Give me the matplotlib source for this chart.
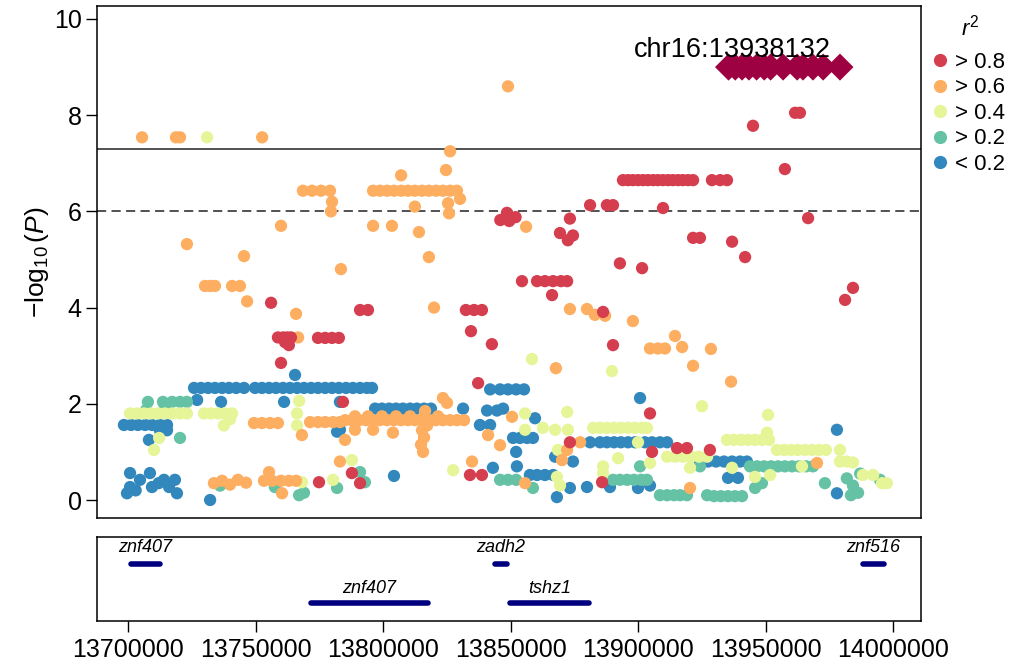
import matplotlib
matplotlib.use("Agg")
import matplotlib.pyplot as plt
from matplotlib.lines import Line2D
import numpy as np

plt.rcParams['font.family'] = ['Liberation Sans', 'DejaVu Sans']
plt.rcParams['mathtext.fontset'] = 'custom'
plt.rcParams['mathtext.rm'] = 'Liberation Sans'
plt.rcParams['mathtext.it'] = 'Liberation Sans:italic'

# ---------------- association results (positions in kb, -log10 P) ----------------
r2_gt08_kb = [13945.1, 13961.6, 13963.5, 13957.6, 13966.7, 13921.6, 13924.3, 13936.9, 13942.0, 13984.3, 13981.2,
              13894.1, 13896.1, 13898.0, 13900.0, 13902.0, 13903.9, 13905.9, 13907.8, 13909.8, 13911.8, 13913.7,
              13915.7, 13917.6, 13919.6, 13921.6, 13929.0, 13932.2, 13934.9,
              13909.8, 13881.2, 13887.8, 13890.2,
              13846.0, 13848.6, 13849.5, 13852.0,
              13873.3, 13869.4, 13872.5, 13874.5,
              13892.9, 13901.6,
              13854.5, 13860.4, 13863.5, 13866.7, 13869.8, 13872.2,
              13866.3,
              13832.5, 13835.7, 13838.8, 13791.0, 13794.1,
              13834.5, 13842.7, 13886.3, 13890.2,
              13756.1, 13758.8, 13760.8, 13762.4, 13763.9, 13763.1, 13761.6, 13760.0,
              13774.5, 13777.3, 13780.0, 13782.7,
              13784.3, 13774.9, 13787.8, 13791.0, 13834.1, 13838.8, 13837.3,
              13904.7, 13873.3, 13905.5, 13915.3, 13919.2, 13885.9, 13928.2]
r2_gt08_logp = [7.78, 8.05, 8.05, 6.88, 5.86, 5.45, 5.45, 5.37, 5.05, 4.41, 4.16,
                6.65, 6.65, 6.65, 6.65, 6.65, 6.65, 6.65, 6.65, 6.65, 6.65, 6.65,
                6.65, 6.65, 6.65, 6.65, 6.65, 6.65, 6.65,
                6.07, 6.13, 6.13, 6.13,
                5.82, 5.97, 5.80, 5.88,
                5.85, 5.55, 5.40, 5.50,
                4.92, 4.82,
                4.55, 4.55, 4.55, 4.55, 4.55, 4.55,
                4.26,
                3.95, 3.95, 3.95, 3.95, 3.95,
                3.51, 3.24, 3.91, 3.22,
                4.10, 3.38, 3.38, 3.38, 3.38, 3.22, 3.28, 2.85,
                3.37, 3.37, 3.37, 3.37,
                2.04, 0.37, 0.56, 0.35, 0.52, 0.52, 2.43,
                1.80, 1.20, 1.00, 1.08, 1.08, 0.37, 1.04]

r2_gt06_kb = [13705.5, 13718.8, 13720.4, 13752.6, 13849.0,
              13768.6, 13772.2, 13775.7, 13779.2, 13780.0, 13779.6,
              13760.0, 13723.1, 13745.5,
              13796.1, 13798.8, 13801.6, 13804.3, 13807.1, 13809.8, 13812.5, 13815.3, 13818.0, 13820.8,
              13823.5, 13826.3, 13829.0,
              13807.1, 13826.3, 13824.7, 13830.2, 13825.5, 13825.9, 13812.5, 13796.1, 13803.5, 13814.1,
              13818.0, 13783.5, 13820.0,
              13730.2, 13732.2, 13734.1, 13740.8, 13743.9, 13746.7, 13765.9, 13766.7,
              13856.1,
              13873.3, 13880.0, 13883.1, 13887.1, 13898.0, 13904.7, 13907.8, 13910.6, 13867.8,
              13914.5, 13917.3, 13928.6, 13921.6, 13936.5,
              13749.4, 13752.5, 13755.7, 13758.8, 13768.2,
              13771.4, 13774.5, 13777.3, 13780.4, 13783.1,
              13785.1, 13787.8, 13790.6, 13793.3, 13796.1, 13798.8, 13801.6, 13804.3, 13807.1, 13809.8,
              13812.5, 13815.3, 13818.0, 13820.8, 13823.5, 13826.3, 13829.0, 13831.8,
              13789.0, 13794.1, 13799.6, 13805.1, 13810.6, 13816.1, 13821.6,
              13823.5, 13825.1,
              13816.5, 13815.3, 13816.1, 13814.9, 13815.7, 13817.3,
              13789.0, 13796.1, 13803.9, 13785.1,
              13841.2, 13845.9, 13783.1, 13834.9,
              13733.7, 13736.9, 13740.0, 13743.1, 13746.3,
              13755.3, 13753.3, 13756.5, 13760.0, 13763.1, 13765.9, 13760.4,
              13850.6, 13877.3, 13870.2, 13872.2, 13855.7, 13920.4, 13970.2]
r2_gt06_logp = [7.54, 7.54, 7.54, 7.54, 8.60,
                6.43, 6.43, 6.43, 6.43, 6.20, 6.00,
                5.70, 5.32, 5.07,
                6.43, 6.43, 6.43, 6.43, 6.43, 6.43, 6.43, 6.43, 6.43, 6.43,
                6.43, 6.43, 6.43,
                6.75, 7.25, 6.86, 6.26, 6.17, 5.96, 6.10, 5.70, 5.70, 5.57,
                5.05, 4.80, 4.00,
                4.45, 4.45, 4.45, 4.45, 4.45, 4.13, 3.87, 3.38,
                5.68,
                3.97, 3.97, 3.85, 3.83, 3.72, 3.15, 3.15, 3.15, 2.74,
                3.41, 3.18, 3.14, 2.79, 2.46,
                1.60, 1.60, 1.60, 1.60, 1.35,
                1.62, 1.62, 1.62, 1.62, 1.62,
                1.66, 1.66, 1.66, 1.66, 1.66, 1.66, 1.66, 1.66, 1.66, 1.66,
                1.66, 1.66, 1.66, 1.66, 1.66, 1.66, 1.66, 1.66,
                1.74, 1.74, 1.74, 1.74, 1.74, 1.74, 1.74,
                2.12, 2.02,
                1.85, 1.45, 1.30, 1.15, 1.00, 1.55,
                1.46, 1.46, 1.40, 1.25,
                1.35, 1.14, 0.80, 0.80,
                0.35, 0.40, 0.32, 0.42, 0.36,
                0.58, 0.40, 0.40, 0.40, 0.40, 0.40, 0.14,
                1.73, 1.20, 0.83, 1.04, 0.35, 0.25, 0.77]

r2_gt04_kb = [13731.0,
              13858.4, 13889.8, 13925.1, 13951.0,
              13700.8, 13703.5, 13706.3, 13709.0, 13711.8, 13714.5, 13717.3, 13720.4, 13723.1,
              13729.8, 13732.5, 13735.3, 13738.0, 13740.8, 13737.6, 13740.0,
              13767.1, 13766.3, 13766.3,
              13712.2, 13710.2,
              13787.8, 13780.4, 13827.5, 13768.2,
              13855.7, 13872.2,
              13882.4, 13885.1, 13887.8, 13890.6, 13893.3, 13896.1, 13898.8, 13901.6, 13903.5,
              13855.7, 13862.7, 13867.5, 13872.5,
              13900.0,
              13911.4, 13914.5, 13917.6, 13920.8, 13923.9, 13927.1,
              13868.6, 13892.2, 13886.3, 13904.7, 13920.4,
              13868.2, 13869.4, 13886.3,
              13934.9, 13937.6, 13940.4, 13943.1, 13945.9, 13948.6, 13951.4, 13950.6,
              13954.5, 13957.3, 13960.0, 13962.7, 13965.5, 13968.2, 13971.0, 13973.7,
              13979.2, 13979.2, 13984.3, 13981.9,
              13936.9, 13945.9, 13951.8, 13964.3,
              13988.2, 13992.2, 13995.7, 13997.6]
r2_gt04_logp = [7.54,
                2.93, 2.68, 1.95, 1.77,
                1.80, 1.80, 1.80, 1.80, 1.80, 1.80, 1.80, 1.80, 1.80,
                1.80, 1.80, 1.80, 1.80, 1.80, 1.55, 1.68,
                2.06, 1.80, 1.55,
                1.29, 1.04,
                0.83, 0.42, 0.62, 0.37,
                1.80, 1.83,
                1.50, 1.50, 1.50, 1.50, 1.50, 1.50, 1.50, 1.50, 1.50,
                1.46, 1.50, 1.46, 1.46,
                1.20,
                0.90, 0.90, 0.90, 0.90, 0.90, 0.90,
                1.04, 0.87, 0.70, 0.77, 0.67,
                0.48, 0.30, 0.56,
                1.25, 1.25, 1.25, 1.25, 1.25, 1.25, 1.25, 1.40,
                1.04, 1.04, 1.04, 1.04, 1.04, 1.04, 1.04, 1.04,
                1.04, 0.80, 0.78, 0.80,
                0.67, 0.48, 0.52, 0.70,
                0.52, 0.52, 0.35, 0.35]

r2_gt02_kb = [13707.8, 13707.1, 13713.7, 13717.3, 13720.4, 13723.1, 13714.5, 13720.4,
              13736.1, 13757.6, 13767.1, 13769.0,
              13791.0, 13792.9, 13782.0,
              13845.9, 13849.0, 13852.2, 13858.8,
              13890.2, 13892.9, 13895.7, 13898.4, 13901.2, 13903.5,
              13900.8, 13924.3,
              13908.6, 13911.4, 13914.1, 13916.5, 13919.2, 13927.1,
              13929.8, 13932.5, 13935.3, 13938.0, 13940.8,
              13943.9, 13946.7, 13949.4, 13952.2, 13954.9, 13957.6, 13960.4, 13963.1, 13965.9, 13968.6,
              13948.6, 13945.9, 13973.3,
              13981.9, 13984.3, 13986.3, 13983.5, 13987.1, 13994.9]
r2_gt02_logp = [2.04, 1.87, 2.04, 2.04, 2.04, 2.04, 1.93, 1.29,
                0.30, 0.27, 0.10, 0.15,
                0.58, 0.37, 0.25,
                0.42, 0.42, 0.42, 0.25,
                0.42, 0.42, 0.42, 0.42, 0.42, 0.42,
                0.70, 0.70,
                0.10, 0.10, 0.10, 0.10, 0.10, 0.10,
                0.08, 0.08, 0.08, 0.08, 0.08,
                0.70, 0.70, 0.70, 0.70, 0.70, 0.70, 0.70, 0.70, 0.70, 0.70,
                0.35, 0.25, 0.35,
                0.45, 0.30, 0.15, 0.10, 0.55, 0.42]

r2_lt02_kb = [13725.9, 13728.6, 13731.4, 13734.1, 13736.9, 13739.6, 13742.4, 13745.5,
              13749.8, 13752.5, 13755.3, 13758.0, 13760.8, 13763.5, 13766.3, 13769.0, 13771.8, 13774.5,
              13777.3, 13780.0, 13782.7, 13785.5, 13788.2, 13791.0, 13793.7, 13795.7,
              13765.5, 13727.1, 13736.5, 13761.2, 13783.1,
              13796.9, 13799.6, 13802.4, 13805.1, 13807.8, 13810.6, 13813.3, 13816.1, 13818.8,
              13831.4, 13840.8, 13844.7, 13847.1,
              13842.0, 13845.9, 13849.0, 13852.2, 13855.3,
              13698.4, 13701.2, 13703.9, 13706.7, 13709.4, 13712.5, 13715.3, 13712.5, 13715.3, 13708.2,
              13700.8, 13700.8, 13704.7, 13708.6, 13709.4, 13714.1, 13716.1, 13718.4, 13719.2, 13699.6,
              13703.0, 13712.0,
              13732.2,
              13783.1, 13782.0, 13804.3, 13843.1, 13838.0, 13842.0,
              13900.8, 13859.6,
              13851.0, 13853.7, 13856.5, 13858.8,
              13881.2,
              13885.1, 13887.8, 13890.6, 13893.3, 13896.1, 13898.8, 13902.7, 13905.5, 13908.6, 13911.4,
              13852.2, 13852.5, 13867.5, 13874.5,
              13857.6, 13860.4, 13863.5, 13866.7,
              13868.2, 13873.3, 13880.0, 13889.0, 13904.7, 13900.0,
              13924.3, 13927.5, 13930.6, 13933.7, 13936.9, 13940.0, 13942.7,
              13935.3, 13939.2,
              13978.0, 13978.0]
r2_lt02_logp = [2.33, 2.33, 2.33, 2.33, 2.33, 2.33, 2.33, 2.33,
                2.33, 2.33, 2.33, 2.33, 2.33, 2.33, 2.33, 2.33, 2.33, 2.33,
                2.33, 2.33, 2.33, 2.33, 2.33, 2.33, 2.33, 2.33,
                2.60, 2.08, 2.04, 2.04, 2.04,
                1.90, 1.90, 1.90, 1.90, 1.90, 1.90, 1.90, 1.90, 1.90,
                1.90, 1.86, 1.86, 1.90,
                2.30, 2.30, 2.30, 2.30, 2.30,
                1.56, 1.56, 1.56, 1.56, 1.56, 1.56, 1.56, 1.45, 1.45, 1.25,
                0.56, 0.27, 0.42, 0.56, 0.27, 0.42, 0.27, 0.42, 0.14, 0.14,
                0.20, 0.35,
                0.00,
                1.46, 1.42, 0.50, 0.67, 1.56, 1.56,
                2.12, 1.70,
                1.29, 1.29, 1.29, 1.29,
                1.20,
                1.20, 1.20, 1.20, 1.20, 1.20, 1.20, 1.20, 1.20, 1.20, 1.20,
                1.00, 0.70, 0.90, 0.80,
                0.52, 0.52, 0.52, 0.52,
                0.06, 0.25, 0.27, 0.27, 0.30, 0.25,
                0.80, 0.80, 0.80, 0.80, 0.80, 0.80, 0.80,
                0.46, 0.46,
                1.46, 0.14]

# variants in the top block (lead SNP and its proxies)
lead_block_kb = [13935.5, 13938.132, 13940.8, 13943.5, 13946.5, 13949.5, 13952.0, 13956.9,
                 13962.4, 13964.7, 13968.6, 13972.6, 13979.2]
lead_block_logp = [9.0] * len(lead_block_kb)
lead_label = "chr16:13938132"
lead_pos_kb = 13938.132

# genes in the region
gene_names = ['znf407', 'zadh2', 'znf516', 'znf407', 'tshz1']
gene_start = [13701000, 13844000, 13988100, 13771700, 13849800]
gene_end = [13712500, 13848600, 13996600, 13817500, 13880800]
gene_row = [0, 0, 0, 1, 1]

r2_labels = ['> 0.8', '> 0.6', '> 0.4', '> 0.2', '< 0.2']
r2_colors = ['#D53E4F', '#FDAE61', '#E6F598', '#66C2A5', '#3288BD']
lead_color = '#9E0142'

gw_threshold = 7.3
sugg_threshold = 6.0
x_ticks = [13700000, 13750000, 13800000, 13850000, 13900000, 13950000, 14000000]
y_ticks = [0, 2, 4, 6, 8, 10]

# ---------------- figure ----------------
W, H = 1017, 668
fig = plt.figure(figsize=(W / 100, H / 100), dpi=100)
ax = fig.add_axes([97 / W, 1 - 518 / H, (921 - 97) / W, (518 - 6) / H])
gax = fig.add_axes([97 / W, 1 - 621 / H, (921 - 97) / W, (621 - 537) / H])

xlim = (13687840, 14010980)

groups = [
    (r2_lt02_kb, r2_lt02_logp, r2_colors[4]),
    (r2_gt02_kb, r2_gt02_logp, r2_colors[3]),
    (r2_gt04_kb, r2_gt04_logp, r2_colors[2]),
    (r2_gt06_kb, r2_gt06_logp, r2_colors[1]),
    (r2_gt08_kb, r2_gt08_logp, r2_colors[0]),
]
for kb, lp, col in groups:
    ax.scatter(np.asarray(kb) * 1000, lp, s=78, color=col, edgecolors='none', zorder=3)

ax.scatter(np.asarray(lead_block_kb) * 1000, lead_block_logp, s=190, marker='D',
           color=lead_color, edgecolors='none', zorder=4)
ax.text(lead_pos_kb * 1000 - 1300, 9.2, lead_label, ha='center', va='baseline', fontsize=19.5, zorder=5)

ax.axhline(gw_threshold, color='#222222', lw=1.1, zorder=2)
ax.axhline(sugg_threshold, color='#222222', lw=1.1, ls=(0, (6, 3.5)), zorder=2)

ax.set_xlim(xlim)
ax.set_ylim(-0.374, 10.27)
ax.set_xticks([])
ax.set_yticks(y_ticks)
ax.set_yticklabels([str(t) for t in y_ticks])
ax.tick_params(axis='y', length=8, width=1.0, labelsize=18, pad=3)
ax.set_ylabel(r'$-\log_{10}(\mathit{P})$', fontsize=19, labelpad=2)
for sp in ax.spines.values():
    sp.set_linewidth(1.1)

# legend (title placed separately above the entries)
handles = [Line2D([], [], marker='o', ls='none', markersize=9.5, color=c, markeredgewidth=0)
           for c in r2_colors]
leg = ax.legend(handles, r2_labels, loc='upper left',
                bbox_to_anchor=(929 / W, 1 - 52 / H), bbox_transform=fig.transFigure,
                frameon=False, fontsize=16, handletextpad=0.15,
                labelspacing=0.2, handlelength=1.0, borderaxespad=0, borderpad=0)
fig.text(970 / W, 1 - 28 / H, r'$r^2$', ha='center', va='center', fontsize=16)

# gene track
row_bar_y = [0.68, 0.21]
row_lab_y = [0.87, 0.39]
for name, s, e, r in zip(gene_names, gene_start, gene_end, gene_row):
    gax.plot([s, e], [row_bar_y[r], row_bar_y[r]], color='#00007F', lw=4, solid_capstyle='round')
    gax.text((s + e) / 2, row_lab_y[r], name, ha='center', va='center', fontsize=13, style='italic')
gax.set_xlim(xlim)
gax.set_ylim(0, 1)
gax.set_yticks([])
gax.set_xticks(x_ticks)
gax.set_xticklabels([str(t) for t in x_ticks])
gax.tick_params(axis='x', length=8, width=1.0, labelsize=18, pad=4)
for sp in gax.spines.values():
    sp.set_linewidth(1.1)

fig.savefig('out.png', dpi=100)
